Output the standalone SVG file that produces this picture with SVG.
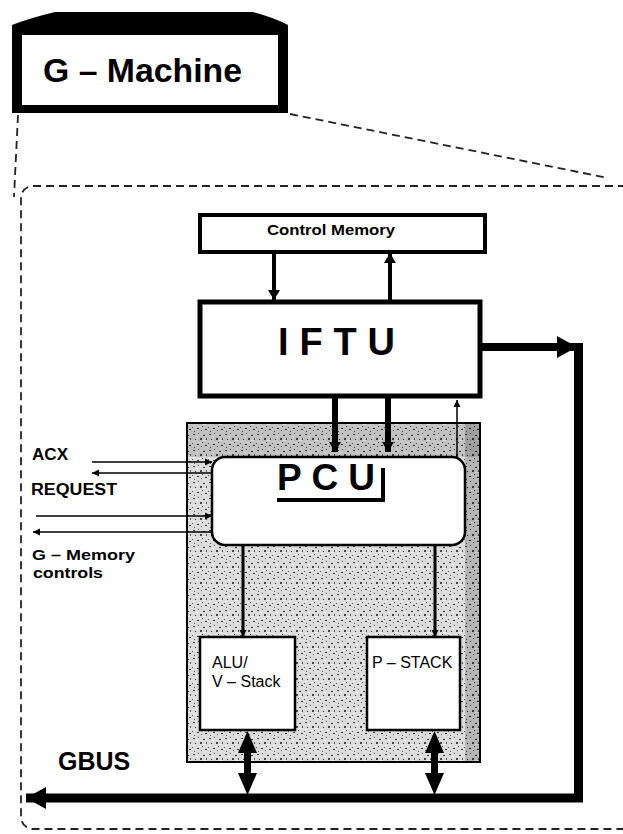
<svg xmlns="http://www.w3.org/2000/svg" width="623" height="834" viewBox="0 0 623 834">
<style>
  .t { font-family: "Liberation Sans", Arial, sans-serif; fill: #000; }
  .b { font-weight: bold; }
  .dash { fill: none; stroke: #222; stroke-width: 1.8; stroke-dasharray: 8 5; }
  .box { fill: #fff; stroke: #000; }
  .ln { fill: none; stroke: #000; }
</style>
<defs>
  <pattern id="stip" width="16" height="16" patternUnits="userSpaceOnUse">
    <rect width="16" height="16" fill="#dcdcdc"/>
    <rect x="1" y="2" width="2" height="1" fill="#444"/>
    <rect x="6" y="1" width="1" height="1" fill="#555"/>
    <rect x="11" y="3" width="2" height="1" fill="#333"/>
    <rect x="14" y="6" width="1" height="2" fill="#555"/>
    <rect x="3" y="7" width="1" height="1" fill="#333"/>
    <rect x="8" y="6" width="2" height="2" fill="#444"/>
    <rect x="0" y="11" width="1" height="1" fill="#555"/>
    <rect x="5" y="12" width="2" height="1" fill="#333"/>
    <rect x="10" y="10" width="1" height="1" fill="#444"/>
    <rect x="13" y="13" width="2" height="1" fill="#333"/>
    <rect x="2" y="15" width="1" height="1" fill="#555"/>
    <rect x="9" y="14" width="1" height="1" fill="#555"/>
    <rect x="12" y="0" width="1" height="1" fill="#eee"/>
    <rect x="4" y="4" width="2" height="1" fill="#f4f4f4"/>
    <rect x="11" y="8" width="3" height="1" fill="#f4f4f4"/>
    <rect x="1" y="9" width="1" height="2" fill="#f2f2f2"/>
    <rect x="7" y="10" width="2" height="1" fill="#f2f2f2"/>
  </pattern>
  <marker id="ah" markerUnits="userSpaceOnUse" markerWidth="12" markerHeight="12" refX="10" refY="6" orient="auto">
    <path d="M0,0 L10,6 L0,12 Z" fill="#000"/>
  </marker>
  <marker id="ahs" markerUnits="userSpaceOnUse" markerWidth="8" markerHeight="8" refX="7" refY="4" orient="auto">
    <path d="M0,0.5 L7,4 L0,7.5 Z" fill="#000"/>
  </marker>
  <marker id="ahb" markerUnits="userSpaceOnUse" markerWidth="22" markerHeight="24" refX="20" refY="12" orient="auto">
    <path d="M0,1 L20,12 L0,23 Z" fill="#000"/>
  </marker>
</defs>

<rect width="623" height="834" fill="#fff"/>

<!-- dashed frame -->
<g id="frame">
  <rect class="dash" x="21" y="186" width="700" height="643" rx="12"/>
  <path class="dash" d="M18,115 L14,197"/>
  <path class="dash" d="M290,114 L608,178"/>
</g>

<!-- G-Machine tab -->
<g id="g-machine">
  <path d="M12,25 Q30,18 55,12 L253,12 Q275,18 288,25 L288,113 L12,113 Z" fill="#000"/>
  <rect x="22" y="35" width="256" height="70" fill="#fff"/>
  <text class="t b" x="43" y="82" font-size="34" textLength="199" lengthAdjust="spacingAndGlyphs">G – Machine</text>
</g>

<!-- Control Memory -->
<g id="control-memory">
  <rect class="box" x="200" y="215" width="285" height="37" stroke-width="4"/>
  <text class="t b" x="267" y="235" font-size="14" textLength="128" lengthAdjust="spacingAndGlyphs">Control Memory</text>
</g>

<!-- IFTU -->
<g id="iftu">
  <rect class="box" x="200" y="302" width="280" height="94" stroke-width="5"/>
  <text class="t b" x="278" y="355" font-size="38" textLength="117" lengthAdjust="spacing">IFTU</text>
</g>

<!-- shaded PCU region -->
<g id="pcu-region">
  <rect x="187" y="423" width="293" height="339" fill="url(#stip)" stroke="#000" stroke-width="2"/>
  <rect x="188" y="424" width="291" height="33" fill="#000" opacity="0.12"/>
  <rect x="465" y="424" width="14" height="337" fill="#000" opacity="0.18"/>
</g>

<!-- PCU -->
<g id="pcu">
  <rect class="box" x="212" y="457" width="253" height="88" rx="13" stroke-width="2.5"/>
  <text class="t b" x="277" y="490" font-size="37" textLength="98" lengthAdjust="spacing">PCU</text>
  <path class="ln" d="M277,500 H383 V468" stroke-width="4"/>
</g>

<!-- ALU / V-Stack -->
<g id="alu">
  <rect class="box" x="200" y="637" width="95" height="93" stroke-width="2.5"/>
  <text class="t" x="212" y="668" font-size="16">ALU/</text>
  <text class="t" x="212" y="687" font-size="16">V – Stack</text>
</g>

<!-- P-STACK -->
<g id="pstack">
  <rect class="box" x="367" y="637" width="93" height="93" stroke-width="2.5"/>
  <text class="t" x="372" y="668" font-size="16">P – STACK</text>
</g>

<!-- side labels -->
<g id="labels">
  <text class="t b" x="32" y="460" font-size="16" textLength="36" lengthAdjust="spacingAndGlyphs">ACX</text>
  <text class="t b" x="31" y="495" font-size="16" textLength="86" lengthAdjust="spacingAndGlyphs">REQUEST</text>
  <text class="t b" x="32" y="560" font-size="15" textLength="103" lengthAdjust="spacingAndGlyphs">G – Memory</text>
  <text class="t b" x="33" y="578" font-size="15" textLength="70" lengthAdjust="spacingAndGlyphs">controls</text>
  <text class="t b" x="58" y="770" font-size="25">GBUS</text>
</g>

<!-- connectors -->
<g id="connectors">
  <!-- Control Memory <-> IFTU -->
  <line class="ln" x1="274" y1="253" x2="274" y2="300" stroke-width="4" marker-end="url(#ah)"/>
  <line class="ln" x1="390" y1="300" x2="390" y2="253" stroke-width="4" marker-end="url(#ah)"/>
  <!-- IFTU -> PCU -->
  <line class="ln" x1="335" y1="398" x2="335" y2="452" stroke-width="6" marker-end="url(#ah)"/>
  <line class="ln" x1="388" y1="398" x2="388" y2="452" stroke-width="6" marker-end="url(#ah)"/>
  <!-- PCU -> IFTU thin -->
  <line class="ln" x1="457" y1="457" x2="457" y2="400" stroke-width="1.5" marker-end="url(#ahs)"/>
  <!-- left signals -->
  <line class="ln" x1="92" y1="462" x2="212" y2="462" stroke-width="1.6" marker-end="url(#ahs)"/>
  <line class="ln" x1="212" y1="473" x2="92" y2="473" stroke-width="1.6" marker-end="url(#ahs)"/>
  <line class="ln" x1="36" y1="516" x2="212" y2="516" stroke-width="1.6" marker-end="url(#ahs)"/>
  <line class="ln" x1="212" y1="532" x2="33" y2="532" stroke-width="1.6" marker-end="url(#ahs)"/>
  <!-- PCU -> ALU, P-STACK -->
  <line class="ln" x1="243" y1="545" x2="243" y2="637" stroke-width="3" marker-end="url(#ahs)"/>
  <line class="ln" x1="435" y1="545" x2="435" y2="637" stroke-width="3" marker-end="url(#ahs)"/>
  <!-- IFTU -> bus -->
  <line class="ln" x1="482" y1="347" x2="577" y2="347" stroke-width="8" marker-end="url(#ahb)"/>
  <path class="ln" d="M578.5,343 V798 H26" stroke-width="9" marker-end="url(#ahb)"/>
  <!-- double arrows to bus -->
  <g fill="#000">
    <rect x="244" y="745" width="7" height="35"/>
    <path d="M247.5,731 L257,753 L238,753 Z"/>
    <path d="M247.5,795 L257,773 L238,773 Z"/>
    <rect x="431" y="745" width="7" height="35"/>
    <path d="M434.5,731 L444,753 L425,753 Z"/>
    <path d="M434.5,795 L444,773 L425,773 Z"/>
  </g>
</g>
</svg>
